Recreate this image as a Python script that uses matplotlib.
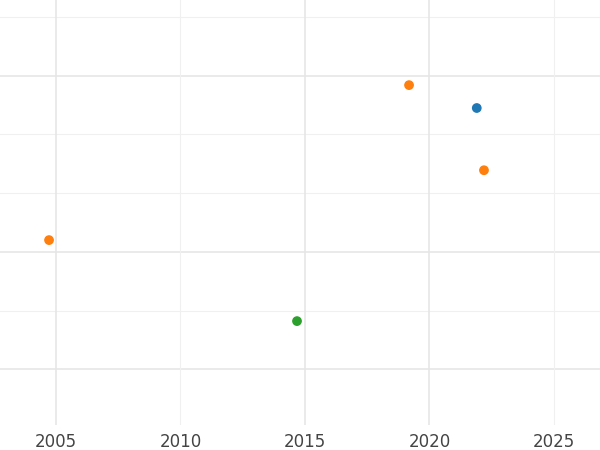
import matplotlib.pyplot as plt

# point data
years = [2019.18, 2021.9, 2022.19, 2004.72, 2014.68]
values = [5.84, 5.45, 4.39, 3.20, 1.82]
colors = ['#ff7f0e', '#1f77b4', '#ff7f0e', '#ff7f0e', '#2ca02c']

x_ticks = [2005, 2010, 2015, 2020, 2025]
major_x = [2005, 2015, 2020]
major_y = [1, 3, 6]
minor_y = [2, 4, 5, 7]

fig = plt.figure(figsize=(6, 4.5), dpi=100)
ax = fig.add_axes([0, 1 - 425 / 450, 1, 425 / 450])

for v in major_y:
    ax.axhline(v, color='#e6e6e6', lw=1.2, zorder=0)
for v in minor_y:
    ax.axhline(v, color='#f0f0f0', lw=0.8, zorder=0)
for t in x_ticks:
    major = t in major_x
    ax.axvline(t, color='#e6e6e6' if major else '#f0f0f0',
               lw=1.2 if major else 0.8, zorder=0)

ax.scatter(years, values, c=colors, s=36, zorder=3)

ax.set_xlim(2002.75, 2026.85)
ax.set_ylim(0.05, 7.29)
ax.set_xticks(x_ticks)
ax.set_yticks([])
ax.tick_params(axis='x', length=0, labelsize=12, labelcolor='#444444', pad=6)
for s in ax.spines.values():
    s.set_visible(False)

plt.savefig('out.png', dpi=100)
plt.close()
